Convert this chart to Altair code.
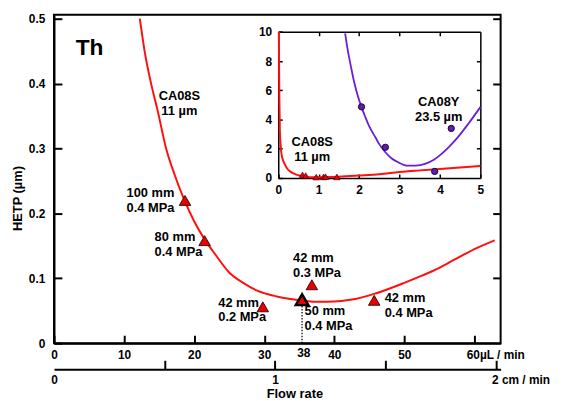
import altair as alt
import pandas as pd

FONT = "Liberation Sans"
RED = "#ff1010"
TRI_RED = "#ee0000"
PURPLE = "#6a1ed6"

# ---------------- main panel: HETP (µm) vs flow rate (µL/min) ----------------
curve_u = [12.25, 12.9, 13.9, 14.8, 16.0, 17.2, 18.7, 20.0, 21.5, 23.0, 25.0, 27.0, 29.0,
           31.8, 34.6, 37.0, 39.0, 41.0, 43.0, 46.0, 50.0, 52.5, 55.0, 57.2, 60.0, 62.9]
curve_h = [0.500, 0.452, 0.398, 0.358, 0.300, 0.260, 0.218, 0.188, 0.160, 0.137, 0.109, 0.093, 0.081,
           0.072, 0.067, 0.064, 0.064, 0.065, 0.068, 0.077, 0.093, 0.104, 0.116, 0.129, 0.145, 0.1585]

tri_u = [18.7, 21.5, 29.8, 35.4, 36.8, 45.7]
tri_h = [0.220, 0.158, 0.056, 0.067, 0.090, 0.066]
tri_len = ["100 mm", "80 mm", "42 mm", "50 mm", "42 mm", "42 mm"]
tri_mpa = ["0.4 MPa", "0.4 MPa", "0.2 MPa", "0.4 MPa", "0.3 MPa", "0.4 MPa"]

# label anchors (data units) for the triangle notes
note_text = ["100 mm\n0.4 MPa", "80 mm\n0.4 MPa", "42 mm\n0.2 MPa", " 50 mm\n0.4 MPa",
             "42 mm\n0.3 MPa", "42 mm\n0.4 MPa"]
note_u = [10.35, 14.36, 23.44, 35.76, 34.12, 47.2]
note_h = [0.2256, 0.157, 0.0564, 0.0427, 0.125, 0.0631]

ref_u = [35.4]
ref_h0 = [0.0]
ref_h1 = [0.062]
ref_label = ["38"]
ref_label_u = [35.64]
ref_label_h = [-0.0207]

main_x_ticks = [0, 10, 20, 30, 40, 50, 60]
main_y_ticks = [0, 0.1, 0.2, 0.3, 0.4, 0.5]
cm_ticks = [0, 0.5, 1, 1.5, 2]

# ---------------- inset: HETP (µm) vs flow rate (cm/min) ----------------
in_red_x = [0.015, 0.022, 0.03, 0.04, 0.06, 0.08, 0.12, 0.16, 0.22, 0.28, 0.36, 0.45, 0.57,
            0.69, 0.85, 1.0, 1.2, 1.5, 2.0, 2.5, 3.0, 3.5, 4.0, 4.5, 5.0]
in_red_y = [10.0, 7.0, 5.0, 3.2, 2.2, 1.65, 1.2, 0.95, 0.65, 0.47, 0.33, 0.23, 0.13,
            0.07, 0.05, 0.05, 0.06, 0.09, 0.17, 0.26, 0.41, 0.52, 0.62, 0.72, 0.82]
in_tri_x = [0.6, 0.68, 0.94, 1.12, 1.17, 1.45]
in_tri_y = [0.22, 0.16, 0.06, 0.07, 0.09, 0.07]

in_pur_x = [1.655, 1.71, 1.80, 1.875, 1.96, 2.06, 2.16, 2.24, 2.41, 2.49, 2.65, 2.80, 2.98,
            3.10, 3.22, 3.40, 3.63, 3.85, 4.04, 4.25, 4.44, 4.70, 5.0]
in_pur_y = [9.9, 8.9, 7.6, 6.6, 5.7, 4.85, 4.13, 3.6, 2.75, 2.35, 1.76, 1.35, 1.05,
            0.9, 0.84, 0.85, 0.97, 1.25, 1.65, 2.2, 2.78, 3.7, 4.85]
in_pts_x = [2.06, 2.65, 3.87, 4.28]
in_pts_y = [4.87, 2.10, 0.45, 3.39]

in_note_text = ["CA08S\n11 µm", "CA08Y\n23.5 µm"]
in_note_x = [0.84, 3.97]
in_note_y = [2.21, 4.92]

in_x_ticks = [0, 1, 2, 3, 4, 5]
in_y_ticks = [0, 2, 4, 6, 8, 10]

# ---------------- data frames ----------------
df_curve = pd.DataFrame({"u": curve_u, "h": curve_h})
df_tri = pd.DataFrame({"u": tri_u, "h": tri_h, "len": tri_len, "mpa": tri_mpa})
df_note = pd.DataFrame({"u": note_u, "h": note_h, "t": note_text})
df_ref = pd.DataFrame({"u": ref_u, "h0": ref_h0, "h1": ref_h1})
df_ref_lab = pd.DataFrame({"u": ref_label_u, "h": ref_label_h, "t": ref_label})
df_cm = pd.DataFrame({"cm": cm_ticks})
df_main_lab = pd.DataFrame({"u": [17.89], "h": [0.375], "t": ["CA08S\n11 µm"]})
df_th = pd.DataFrame({"u": [3.1], "h": [0.4447], "t": ["Th"]})

df_in_red = pd.DataFrame({"x": in_red_x, "y": in_red_y})
df_in_tri = pd.DataFrame({"x": in_tri_x, "y": in_tri_y})
df_in_pur = pd.DataFrame({"x": in_pur_x, "y": in_pur_y})
df_in_pts = pd.DataFrame({"x": in_pts_x, "y": in_pts_y})
df_in_note = pd.DataFrame({"x": in_note_x, "y": in_note_y, "t": in_note_text})

# ---------------- scales ----------------
mx = alt.Scale(domain=[0, 63.74], nice=False, zero=False)
my = alt.Scale(domain=[0, 0.5061], nice=False, zero=False)
cmx = alt.Scale(domain=[0, 2.0215], nice=False, zero=False)
ix = alt.Scale(domain=[0, 5], range=[226.7, 431.0], nice=False, zero=False)
iy = alt.Scale(domain=[0, 10], range=[165.0, 17.3], nice=False, zero=False)


def neg(v):
    return {"expr": str(-v)}


main_x_axis = alt.Axis(
    orient="bottom", values=main_x_ticks, title=None, grid=False,
    tickSize=neg(8), tickWidth=2, domainWidth=2, labelPadding=14.3, labelFlush=False,
    labelExpr="datum.value == 60 ? '60µL / min' : datum.label",
    labelAlign={"condition": {"test": "datum.value == 60", "value": "left"}, "value": "center"},
    labelOffset={"condition": {"test": "datum.value == 60", "value": -8.3}, "value": 0},
)
main_y_axis = alt.Axis(
    orient="left", values=main_y_ticks, grid=False,
    labelExpr="datum.value == 0 ? '0' : format(datum.value, '.1f')",
    tickSize=neg(8), tickWidth=2, domainWidth=2, labelPadding=17.3,
    title="HETP (µm)", titleX=-37, titleY=185.3, titleAngle=270,
    titleAlign="center", titleBaseline="middle",
)
right_axis = alt.Axis(
    orient="right", values=[0.1, 0.2, 0.3, 0.4, 0.5], labels=False, title=None, grid=False,
    tickSize=neg(8), tickWidth=2, domain=False,
)
cm_axis = alt.Axis(
    orient="bottom", offset=26.3, values=cm_ticks, grid=False,
    labelExpr="datum.value == 0 ? '0' : datum.value == 1 ? '1' : datum.value == 2 ? '2 cm / min' : ''",
    labelAlign={"condition": {"test": "datum.value == 2", "value": "left"}, "value": "center"},
    labelOffset={"condition": {"test": "datum.value == 2", "value": -4.4}, "value": 0},
    tickColor={"condition": {"test": "datum.value == 0", "value": "rgba(0,0,0,0)"}, "value": "black"},
    tickSize=neg(9), tickWidth=2, domainWidth=2, labelPadding=14.2, labelFlush=False,
    title="Flow rate", titleX=243, titleY=28.3, titleAlign="center", titleBaseline="alphabetic",
)
in_x_axis = alt.Axis(
    orient="bottom", offset=-167, values=in_x_ticks, title=None, grid=False,
    tickSize=neg(4), tickWidth=1.5, domainWidth=1.5, labelPadding=10.3, labelFlush=False,
)
in_y_axis = alt.Axis(
    orient="left", offset=-226.7, values=in_y_ticks, title=None, grid=False,
    tickSize=neg(4), tickWidth=1.5, domainWidth=1.5, labelPadding=10.7,
)
in_top_axis = alt.Axis(
    orient="top", offset=-17.3, values=[1, 2, 3, 4], labels=False, title=None, grid=False,
    tickSize=neg(4), tickWidth=1.5, domainWidth=1.5,
)
in_right_axis = alt.Axis(
    orient="right", offset=-20.5, values=[2, 4, 6, 8], labels=False, title=None, grid=False,
    tickSize=neg(4), tickWidth=1.5, domainWidth=1.5,
)

txt = dict(font=FONT, fontWeight="bold", color="black", lineBreak="\n")

layers = []

# main curve with main axes
layers.append(
    alt.Chart(df_curve).mark_line(color=RED, strokeWidth=2, interpolate="monotone").encode(
        x=alt.X("u:Q", scale=mx, axis=main_x_axis),
        y=alt.Y("h:Q", scale=my, axis=main_y_axis),
    )
)
# right-hand ticks of main panel
layers.append(
    alt.Chart(df_curve).mark_line(opacity=0).encode(
        x=alt.X("u:Q", scale=mx, axis=None),
        y=alt.Y("h:Q", scale=my, axis=right_axis),
    )
)
# second flow-rate axis (cm/min)
layers.append(
    alt.Chart(df_cm).mark_point(opacity=0).encode(
        x=alt.X("cm:Q", scale=cmx, axis=cm_axis),
    )
)
# dotted reference line
layers.append(
    alt.Chart(df_ref).mark_rule(color="black", strokeWidth=1.2, strokeDash=[1.5, 1.5]).encode(
        x=alt.X("u:Q", scale=mx, axis=None),
        y=alt.Y("h0:Q", scale=my, axis=None),
        y2="h1:Q",
    )
)
layers.append(
    alt.Chart(df_ref_lab).mark_text(align="center", baseline="alphabetic", fontSize=12, **txt).encode(
        x=alt.X("u:Q", scale=mx, axis=None),
        y=alt.Y("h:Q", scale=my, axis=None),
        text="t:N",
    )
)
# triangles
layers.append(
    alt.Chart(df_tri).mark_point(shape="triangle-up", filled=True, fill=TRI_RED, stroke="black", opacity=1).encode(
        x=alt.X("u:Q", scale=mx, axis=None),
        y=alt.Y("h:Q", scale=my, axis=None),
        size=alt.condition("datum.len == '50 mm'", alt.value(160), alt.value(135)),
        strokeWidth=alt.condition("datum.len == '50 mm'", alt.value(2.5), alt.value(0.8)),
    )
)
# notes
layers.append(
    alt.Chart(df_note).mark_text(align="left", baseline="alphabetic", fontSize=13, lineHeight=15, **txt).encode(
        x=alt.X("u:Q", scale=mx, axis=None),
        y=alt.Y("h:Q", scale=my, axis=None),
        text="t:N",
    )
)
layers.append(
    alt.Chart(df_main_lab).mark_text(align="center", baseline="alphabetic", fontSize=13, lineHeight=15, **txt).encode(
        x=alt.X("u:Q", scale=mx, axis=None),
        y=alt.Y("h:Q", scale=my, axis=None),
        text="t:N",
    )
)
layers.append(
    alt.Chart(df_th).mark_text(align="left", baseline="alphabetic", fontSize=23, **txt).encode(
        x=alt.X("u:Q", scale=mx, axis=None),
        y=alt.Y("h:Q", scale=my, axis=None),
        text="t:N",
    )
)

# ---------------- inset ----------------
layers.append(
    alt.Chart(df_in_red).mark_line(color=RED, strokeWidth=2, interpolate="monotone").encode(
        x=alt.X("x:Q", scale=ix, axis=in_x_axis),
        y=alt.Y("y:Q", scale=iy, axis=in_y_axis),
    )
)
layers.append(
    alt.Chart(df_in_red).mark_line(opacity=0).encode(
        x=alt.X("x:Q", scale=ix, axis=in_top_axis),
        y=alt.Y("y:Q", scale=iy, axis=in_right_axis),
    )
)
layers.append(
    alt.Chart(df_in_pur).mark_line(color=PURPLE, strokeWidth=1.8, interpolate="monotone").encode(
        x=alt.X("x:Q", scale=ix, axis=None),
        y=alt.Y("y:Q", scale=iy, axis=None),
    )
)
layers.append(
    alt.Chart(df_in_tri).mark_point(shape="triangle-up", filled=True, fill=TRI_RED, stroke="black",
                                    strokeWidth=0.5, size=45, opacity=1).encode(
        x=alt.X("x:Q", scale=ix, axis=None),
        y=alt.Y("y:Q", scale=iy, axis=None),
    )
)
layers.append(
    alt.Chart(df_in_pts).mark_point(shape="circle", filled=True, fill="#5a1fb0", stroke="#1a0033",
                                    strokeWidth=1, size=40, opacity=1).encode(
        x=alt.X("x:Q", scale=ix, axis=None),
        y=alt.Y("y:Q", scale=iy, axis=None),
    )
)
layers.append(
    alt.Chart(df_in_note).mark_text(align="center", baseline="alphabetic", fontSize=13, lineHeight=15, **txt).encode(
        x=alt.X("x:Q", scale=ix, axis=None),
        y=alt.Y("y:Q", scale=iy, axis=None),
        text="t:N",
    )
)

chart = (
    alt.layer(*layers)
    .resolve_scale(x="independent", y="independent")
    .resolve_axis(x="independent", y="independent")
    .properties(
        width=451.5, height=332,
        padding={"left": 46.5, "top": 4.7, "right": 58, "bottom": 55},
        autosize=alt.AutoSizeParams(type="none"),
    )
    .configure_view(stroke="black", strokeWidth=2)
    .configure_axis(
        labelFont=FONT, labelFontWeight="bold", labelFontSize=12, labelColor="black",
        tickColor="black", domainColor="black",
        titleFont=FONT, titleFontWeight="bold", titleFontSize=13, titleColor="black",
    )
)

chart.save("out.html", embed_options={"renderer": "svg", "actions": False})
